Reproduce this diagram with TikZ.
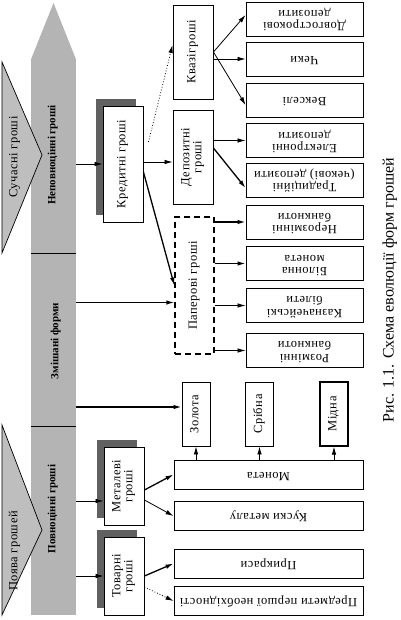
\documentclass[tikz,border=0pt]{standalone}
\usepackage{fontspec}
\setmainfont{Liberation Serif}
\newfontfamily\spacedfont[LetterSpace=4]{Liberation Serif}
\usetikzlibrary{arrows.meta, shadows}
\newcommand{\turned}[2]{\rotatebox{#1}{\begin{tabular}{@{}c@{}}#2\end{tabular}}}
\definecolor{colgray}{RGB}{180,180,180}
\definecolor{trigray}{RGB}{190,190,190}
\definecolor{shadegray}{RGB}{96,96,96}

\begin{document}
\begin{tikzpicture}[x=1pt, y=-1pt]
\tikzstyle{box} = [rectangle, draw=black, line width=0.9pt, fill=white, inner sep=0pt, text centered, font=\spacedfont\fontsize{12.5}{12}\selectfont]
\tikzstyle{wide} = [box, minimum width=117pt, minimum height=34pt]
\tikzstyle{long} = [box, minimum width=189pt, minimum height=29pt]
\tikzstyle{tall} = [box, minimum width=40pt, minimum height=94pt]
\tikzstyle{metalbox} = [box, minimum width=28pt, minimum height=64pt]
\tikzstyle{shadowed} = [box, minimum width=40pt, drop shadow={shadow xshift=-7pt, shadow yshift=7pt, fill=shadegray, opacity=1}]
\tikzstyle{sidelabel} = [inner sep=0pt, font=\spacedfont\fontsize{12.5}{12}\selectfont]
\tikzstyle{collabel} = [inner sep=0pt, font=\bfseries\fontsize{11}{12}\selectfont]
\tikzstyle{arr} = [-{Latex[length=8pt, width=4.5pt]}, line width=0.8pt]
\tikzstyle{thickarr} = [arr, line width=1.3pt]
\useasboundingbox (0,0) rectangle (400,620);

% grey column with pointed top
\node[fill=colgray, minimum width=45pt, minimum height=555pt, inner sep=0pt] (col) at (53.5,337.5) {};
\fill[colgray] (col.north west) -- (53.5,3) -- (col.north east) -- cycle;
\draw[line width=0.8pt] (31,253) -- (76,253);
\draw[line width=0.8pt] (31,426) -- (76,426);

% side triangles
\draw[fill=trigray, line width=0.7pt] (2,62) -- (42,155) -- (2,253) -- cycle;
\draw[fill=trigray, line width=0.7pt] (2,425) -- (42,530) -- (2,615) -- cycle;
\node[sidelabel] (suchasni) at (15,157) {\turned{90}{Сучасні гроші}};
\node[sidelabel] (poiava) at (15,551) {\turned{90}{Поява грошей}};

\node[collabel] (nepovn) at (53,155) {\turned{90}{Неповноцінні гроші}};
\node[collabel] (zmishani) at (56,341) {\turned{90}{Змішані форми}};
\node[collabel] (povn) at (53,509) {\turned{90}{Повноцінні гроші}};

% first column of boxes
\node[shadowed, minimum height=116pt] (kred) at (123,164) {\turned{90}{Кредитні гроші}};
\node[shadowed, minimum height=78pt] (metal) at (124,486) {\turned{90}{Металеві\\гроші}};
\node[shadowed, minimum height=78pt] (tovar) at (124,576) {\turned{90}{Товарні\\гроші}};

% second column of boxes
\node[tall] (kvazi) at (193,52) {\turned{90}{Квазігроші}};
\node[tall] (depoz) at (193,157) {\turned{90}{Депозитні\\гроші}};
\node[box, dash pattern=on 6pt off 4pt, line width=1.3pt, minimum width=39pt, minimum height=137pt] (paper) at (194.5,285.5) {\turned{90}{Паперові гроші}};
\node[metalbox] (zoloto) at (196,414) {\turned{90}{Золота}};
\node[metalbox] (sribna) at (259.5,414) {\turned{90}{Срібна}};
\node[metalbox, line width=1.3pt] (midna) at (334,414) {\turned{90}{Мідна}};

% right column of boxes
\node[wide] (dovg) at (304.5,19) {\turned{180}{Довгострокові\\депозити}};
\node[wide] (cheky) at (304.5,59) {\turned{180}{Чеки}};
\node[wide] (veks) at (304.5,100) {\turned{180}{Векселі}};
\node[wide] (elek) at (304.5,140.5) {\turned{180}{Електронні\\депозити}};
\node[wide] (trad) at (304.5,180) {\turned{180}{Традиційні\\(чекові) депозити}};
\node[wide] (nerozm) at (304.5,222) {\turned{180}{Нерозмінні\\банкноти}};
\node[wide] (bilon) at (304.5,263.5) {\turned{180}{Білонна\\монета}};
\node[wide] (kazn) at (304.5,305.5) {\turned{180}{Казначейські\\білети}};
\node[wide] (rozm) at (304.5,350.5) {\turned{180}{Розмінні\\банкноти}};
\node[long] (moneta) at (268.5,474.5) {\turned{180}{Монета}};
\node[long] (kusky) at (268.5,516) {\turned{180}{Куски металу}};
\node[long] (prykr) at (268.5,563.5) {\turned{180}{Прикраси}};
\node[long] (predm) at (268.5,601) {\turned{180}{Предмети першої необхідності}};

% caption
\node[inner sep=0pt, font=\fontsize{16}{18}\selectfont] (caption) at (390,290) {\turned{90}{Рис. 1.1. Схема еволюції форм грошей}};

% arrows from the column
\coordinate (pin) at ([yshift=-17pt]paper.west);
\coordinate (zin) at ([yshift=7pt]zoloto.west);
\coordinate (min) at ([yshift=-15pt]metal.west);
\draw[arr] (col.east |- kred.west) -- (kred.west);
\draw[thickarr] (col.east |- pin) -- (pin);
\draw[thickarr] (col.east |- zin) -- (zin);
\draw[arr] (col.east |- min) -- (min);
\draw[arr] (col.east |- tovar.west) -- (tovar.west);

% credit money
\draw[arr, dotted] ([xshift=5pt, yshift=22pt]kred.east) -- ([yshift=7pt]kvazi.west);
\draw[arr] ([yshift=2pt]kred.east) -- ([yshift=2pt]kred.east -| depoz.west);
\draw[thickarr] ([yshift=-8pt]kred.east) -- (paper.west);

% quasi and deposit money
\draw[arr] (kvazi.east) -- ([yshift=4pt]dovg.west);
\draw[arr] (kvazi.east |- cheky.west) -- (cheky.west);
\draw[arr] (kvazi.east) -- ([yshift=-5pt]veks.west);
\draw[arr] (depoz.east |- elek.west) -- (elek.west);
\draw[thickarr] ([yshift=9pt]depoz.east) -- ([yshift=-8pt]trad.west);

% paper money
\draw[thickarr] (paper.east |- nerozm.west) -- (nerozm.west);
\draw[thickarr] (paper.east |- bilon.west) -- (bilon.west);
\draw[arr] (paper.east |- kazn.west) -- (kazn.west);
\draw[arr] (paper.east |- rozm.west) -- (rozm.west);

% metal and commodity money
\draw[thickarr] ([yshift=-4pt]metal.east) -- (moneta.west);
\draw[arr] ([yshift=-14pt]metal.east) -- (kusky.west);
\draw[thickarr] (tovar.east) -- (prykr.west);
\draw[arr, dotted] ([yshift=-11pt]tovar.east) -- (predm.west);
\draw[arr] (zoloto.south |- moneta.north) -- (zoloto.south);
\draw[arr] (sribna.south |- moneta.north) -- (sribna.south);
\draw[arr] (midna.south |- moneta.north) -- (midna.south);
\end{tikzpicture}
\end{document}
